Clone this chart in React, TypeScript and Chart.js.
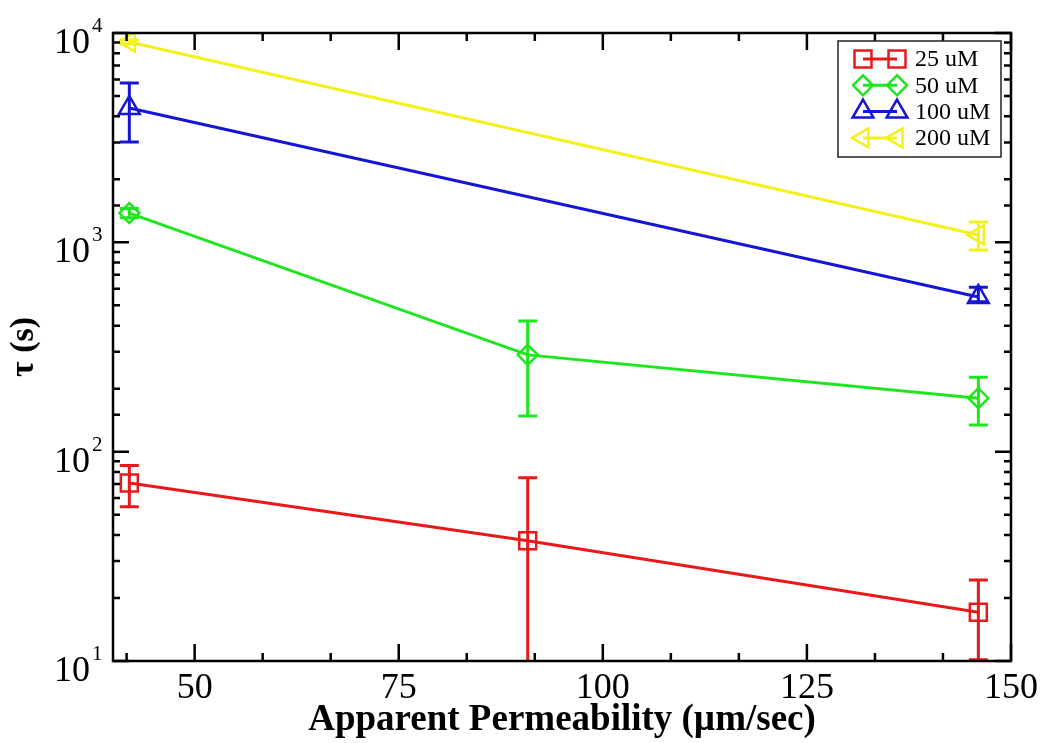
import React, { useEffect, useRef } from 'react';
import { Chart, registerables } from 'chart.js';
import { drawPoint } from 'chart.js/helpers';

Chart.register(...registerables);

// ---- data ----
const xThree = [42, 90.8, 146];
const xTwo = [42, 146];
const seriesLabels = ['25 uM', '50 uM', '100 uM', '200 uM'];
const seriesColors = ['#e8191b', '#1ee61e', '#1616d2', '#f4f01c'];

const tau25 = [70.8, 37.5, 17.1];
const low25 = [54.5, 5, 10.15];
const high25 = [86, 75, 24.4];

const tau50 = [1380, 290, 180];
const low50 = [1310, 148, 134];
const high50 = [1450, 421, 227];

const tau100 = [4385, 548];
const low100 = [3013, 520];
const high100 = [5770, 610];

const tau200 = [9060, 1085];
const low200 = [8850, 919];
const high200 = [9250, 1250];

const xMajorTicks = [50, 75, 100, 125, 150];
const xMin = 40;
const xMax = 150;
const yMin = 10;
const yMax = 10000;

const SERIF = "'Liberation Serif', 'DejaVu Serif', serif";

function makeDataset(label: string, xs: number[], ys: number[], lo: number[], hi: number[], color: string, style: string, radius: number, rot: number) {
  return {
    label,
    data: xs.map((x, i) => ({ x, y: ys[i] })),
    errLow: lo,
    errHigh: hi,
    borderColor: color,
    backgroundColor: color,
    borderWidth: 3,
    pointStyle: style,
    pointRadius: radius,
    pointHoverRadius: radius,
    pointRotation: rot,
    pointBorderColor: color,
    pointBackgroundColor: 'rgba(0,0,0,0)',
    pointBorderWidth: 2.5,
    tension: 0,
    fill: false,
  };
}

const decorPlugin = {
  id: 'decor',
  beforeDatasetsDraw(chart: any) {
    const { ctx, chartArea } = chart;
    const xs = chart.scales.x;
    const ys = chart.scales.y;
    ctx.save();
    ctx.beginPath();
    ctx.rect(chartArea.left, chartArea.top, chartArea.right - chartArea.left, chartArea.bottom - chartArea.top);
    ctx.clip();
    chart.data.datasets.forEach((ds: any) => {
      ctx.strokeStyle = ds.borderColor;
      ctx.lineWidth = 3;
      ds.data.forEach((pt: any, j: number) => {
        const px = xs.getPixelForValue(pt.x);
        const pLo = ys.getPixelForValue(ds.errLow[j]);
        const pHi = ys.getPixelForValue(ds.errHigh[j]);
        const cap = 9.5;
        ctx.beginPath();
        ctx.moveTo(px, pLo);
        ctx.lineTo(px, pHi);
        ctx.moveTo(px - cap, pLo);
        ctx.lineTo(px + cap, pLo);
        ctx.moveTo(px - cap, pHi);
        ctx.lineTo(px + cap, pHi);
        ctx.stroke();
      });
    });
    ctx.restore();
  },
  afterDraw(chart: any) {
    const { ctx, chartArea } = chart;
    const { left, right, top, bottom } = chartArea;
    const xs = chart.scales.x;
    const ys = chart.scales.y;
    const majorLen = 17;
    const minorLen = 8;
    ctx.save();
    ctx.strokeStyle = '#000';
    ctx.lineWidth = 2.5;
    ctx.lineCap = 'butt';
    ctx.strokeRect(left, top, right - left, bottom - top);

    // x ticks (major + 2 minors between)
    const step = xMajorTicks[1] - xMajorTicks[0];
    ctx.beginPath();
    for (let v = xMajorTicks[0] - step; v <= xMax + 1e-6; v += step / 3) {
      if (v < xMin - 1e-6) continue;
      const isMajor = xMajorTicks.some((m) => Math.abs(m - v) < 1e-6);
      const len = isMajor ? majorLen : minorLen;
      const px = xs.getPixelForValue(v);
      ctx.moveTo(px, bottom);
      ctx.lineTo(px, bottom - len);
      ctx.moveTo(px, top);
      ctx.lineTo(px, top + len);
    }
    // y ticks from log scale
    ys.ticks.forEach((t: any) => {
      const v = t.value;
      const lg = Math.log10(v);
      const isMajor = Math.abs(lg - Math.round(lg)) < 1e-9;
      const len = isMajor ? majorLen - 1 : minorLen - 1;
      const py = ys.getPixelForValue(v);
      ctx.moveTo(left, py);
      ctx.lineTo(left + len, py);
      ctx.moveTo(right, py);
      ctx.lineTo(right - len, py);
    });
    ctx.stroke();

    // y labels 10^n
    ctx.fillStyle = '#000';
    ys.ticks.forEach((t: any) => {
      const v = t.value;
      const lg = Math.log10(v);
      if (Math.abs(lg - Math.round(lg)) > 1e-9) return;
      const py = ys.getPixelForValue(v);
      ctx.font = `36px ${SERIF}`;
      ctx.textAlign = 'right';
      ctx.textBaseline = 'alphabetic';
      ctx.fillText('10', left - 23, py + 20);
      ctx.font = `21px ${SERIF}`;
      ctx.textAlign = 'left';
      ctx.fillText(String(Math.round(lg)), left - 21, py - 1);
    });

    // legend
    const bx = right - 173;
    const by = top + 8;
    const bw = 163;
    const bh = 116;
    ctx.fillStyle = '#fff';
    ctx.fillRect(bx, by, bw, bh);
    ctx.strokeStyle = '#222';
    ctx.lineWidth = 1.5;
    ctx.strokeRect(bx, by, bw, bh);
    chart.data.datasets.forEach((ds: any, i: number) => {
      const cy = by + 18 + i * 26.3;
      const x1 = bx + 25;
      const x2 = bx + 59;
      ctx.strokeStyle = ds.borderColor;
      ctx.lineWidth = 3;
      ctx.beginPath();
      ctx.moveTo(x1, cy);
      ctx.lineTo(x2, cy);
      ctx.stroke();
      const opts = {
        pointStyle: ds.pointStyle,
        rotation: ds.pointRotation,
        radius: ds.pointRadius,
        borderWidth: ds.pointBorderWidth,
      };
      ctx.strokeStyle = ds.borderColor;
      ctx.fillStyle = 'rgba(0,0,0,0)';
      ctx.lineWidth = ds.pointBorderWidth;
      drawPoint(ctx, opts as any, x1, cy);
      drawPoint(ctx, opts as any, x2, cy);
      ctx.fillStyle = '#000';
      ctx.font = `24px ${SERIF}`;
      ctx.textAlign = 'left';
      ctx.textBaseline = 'middle';
      ctx.fillText(ds.label, bx + 77, cy + 1);
    });
    ctx.restore();
  },
};

export default function App() {
  const ref = useRef<HTMLCanvasElement>(null);
  useEffect(() => {
    const canvas = ref.current;
    if (!canvas) return;
    Chart.defaults.font.family = SERIF;
    const chart = new Chart(canvas, {
      type: 'line',
      data: {
        datasets: [
          makeDataset(seriesLabels[0], xThree, tau25, low25, high25, seriesColors[0], 'rect', 12, 0),
          makeDataset(seriesLabels[1], xThree, tau50, low50, high50, seriesColors[1], 'rectRot', 10, 0),
          makeDataset(seriesLabels[2], xTwo, tau100, low100, high100, seriesColors[2], 'triangle', 12, 0),
          makeDataset(seriesLabels[3], xTwo, tau200, low200, high200, seriesColors[3], 'triangle', 11, -90),
        ] as any,
      },
      options: {
        animation: false,
        responsive: false,
        devicePixelRatio: 1,
        layout: { padding: { top: 33, right: 35, left: 0, bottom: 0 } },
        plugins: { legend: { display: false }, tooltip: { enabled: false } },
        events: [],
        scales: {
          x: {
            type: 'linear',
            min: xMin,
            max: xMax,
            afterBuildTicks: (scale: any) => {
              scale.ticks = xMajorTicks.map((v) => ({ value: v }));
            },
            afterFit: (scale: any) => {
              scale.height = 82;
            },
            grid: { display: false, drawTicks: false },
            border: { display: false },
            ticks: {
              color: '#000',
              font: { family: SERIF, size: 36 },
              padding: 6,
              maxRotation: 0,
              autoSkip: false,
            },
            title: {
              display: true,
              text: 'Apparent Permeability (\u00b5m/sec)',
              color: '#000',
              font: { family: SERIF, size: 37, weight: 'bold' },
              padding: { top: 0, bottom: 0 },
            },
          },
          y: {
            type: 'logarithmic',
            min: yMin,
            max: yMax,
            afterFit: (scale: any) => {
              scale.width = 113;
            },
            grid: { display: false, drawTicks: false },
            border: { display: false },
            ticks: {
              callback: () => '',
              autoSkip: false,
            },
            title: {
              display: true,
              text: '\u03c4 (s)',
              color: '#000',
              font: { family: SERIF, size: 34, weight: 'bold' },
              padding: { top: 4, bottom: 0 },
            },
          },
        },
      } as any,
      plugins: [decorPlugin],
    });
    return () => chart.destroy();
  }, []);
  return (
    <div style={{ position: 'fixed', left: 0, top: 0, width: 1046, height: 743, background: '#fff' }}>
      <canvas ref={ref} width={1046} height={743} style={{ display: 'block' }} />
    </div>
  );
}
